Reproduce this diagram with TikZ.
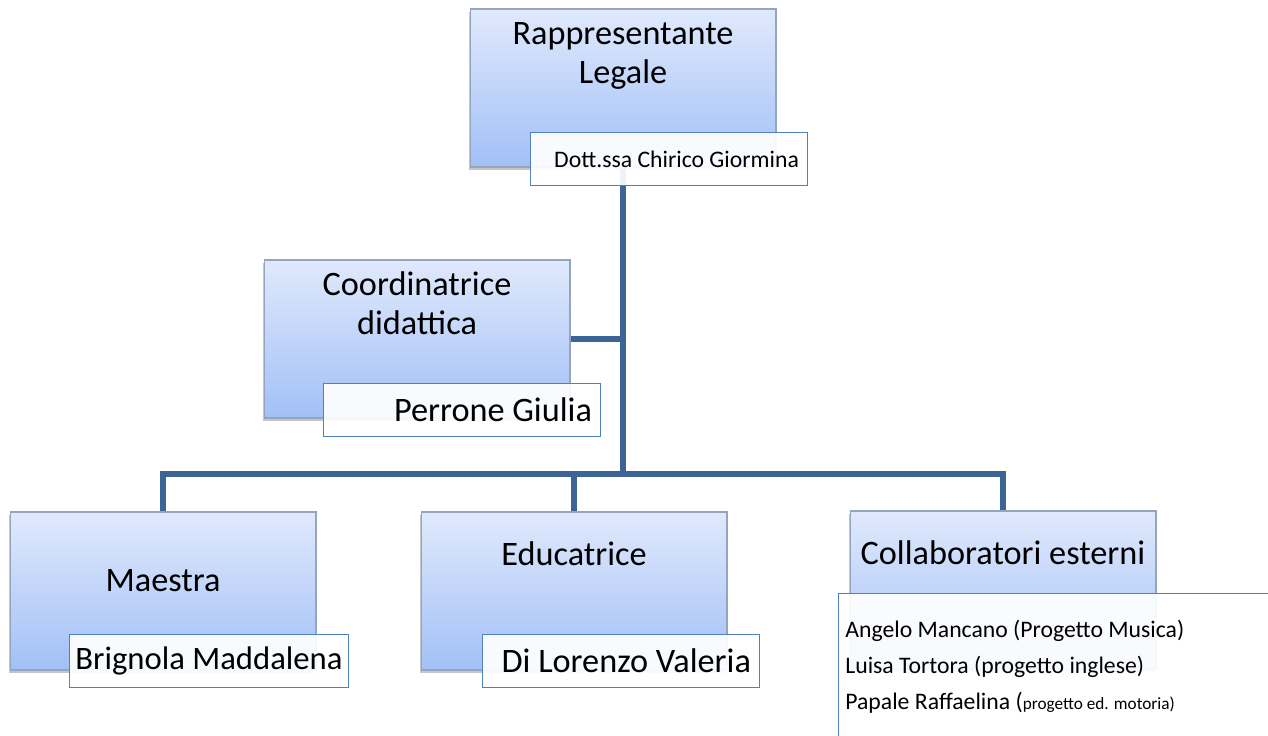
\documentclass[tikz,border=0pt]{standalone}
\usepackage{fontspec}
\setmainfont{Carlito}
\usepackage{xcolor}
\usepackage{tikz}
\usetikzlibrary{shadows,backgrounds}

\definecolor{linea}{RGB}{61,100,150}
\definecolor{bordo}{RGB}{79,129,189}
\definecolor{grigio}{RGB}{150,165,190}

\begin{document}
\begin{tikzpicture}[x=0.02cm, y=-0.02cm,
		ruolo/.style={draw=grigio, line width=.6pt, top color={rgb,255:red,224;green,233;blue,252}, bottom color={rgb,255:red,162;green,192;blue,247}, minimum width=6.12cm, minimum height=3.16cm, drop shadow={shadow xshift=-.8pt, shadow yshift=-1.8pt, opacity=.45}},
		nome/.style={draw=bordo, line width=.8pt, fill=white, fill opacity=.92, text opacity=1, minimum width=5.54cm, minimum height=1.05cm, text width=5.2cm, align=flush right, inner xsep=4pt},
		titolo/.style={align=center, font=\fontsize{19.5}{22}\selectfont},
		connettore/.style={draw=linea, line width=2.9pt}]
	\clip (0,0) rectangle (1268,736);
	% ruoli
	\node[ruolo] (rl) at (623,88) {};
	\node[ruolo] (cd) at (417,339) {};
	\node[ruolo] (ma) at (163,591) {};
	\node[ruolo] (ed) at (574,591) {};
	\node[ruolo] (ce) at (1003,590) {};
	\node[titolo, anchor=north] at (rl.north) [yshift=-4.5pt] {Rappresentante\\Legale};
	\node[titolo, anchor=north] at (cd.north) [yshift=-3.5pt] {Coordinatrice\\didattica};
	\node[titolo] at (ma.center) [yshift=6pt] {Maestra};
	\node[titolo] at (ed.center) [yshift=21pt] {Educatrice};
	\node[titolo] at (ce.center) [yshift=21pt] {Collaboratori esterni};
	% collegamenti
	\coordinate (snodo) at (623,474);
	\begin{scope}[on background layer]
		\draw[connettore] (rl.south) -- (snodo);
		\draw[connettore] (cd.east) -- (cd.east -| rl.south);
		\draw[connettore] (ma.north) |- (snodo) -| (ce.north);
		\draw[connettore] (ed.north) -- (ed.north |- snodo);
	\end{scope}
	% nomi
	\node[nome, font=\fontsize{13.5}{15}\selectfont] (nrl) at (669,159) {Dott.ssa Chirico Giormina};
	\node[nome, titolo, align=flush right] (ncd) at (462,410) {Perrone Giulia};
	\node[nome, titolo, text width=5.5cm, inner xsep=1pt, align=flush center, font=\fontsize{18.6}{20}\selectfont] (nma) at (209,661) {Brignola Maddalena};
	\node[nome, titolo, align=flush right] (ned) at (621,661) {Di Lorenzo Valeria};
	\node[nome, anchor=north west, minimum width=9.5cm, minimum height=4cm] (nce) at (838,593) {};
	\node[anchor=north west, align=left, inner sep=0pt, font=\fontsize{13.5}{20.4}\selectfont] (lce) at (845,620) {Angelo Mancano (Progetto Musica)\\Luisa Tortora (progetto inglese)\\Papale Raffaelina ({\fontsize{9.8}{11}\selectfont progetto ed. motoria)}};
\end{tikzpicture}
\end{document}
